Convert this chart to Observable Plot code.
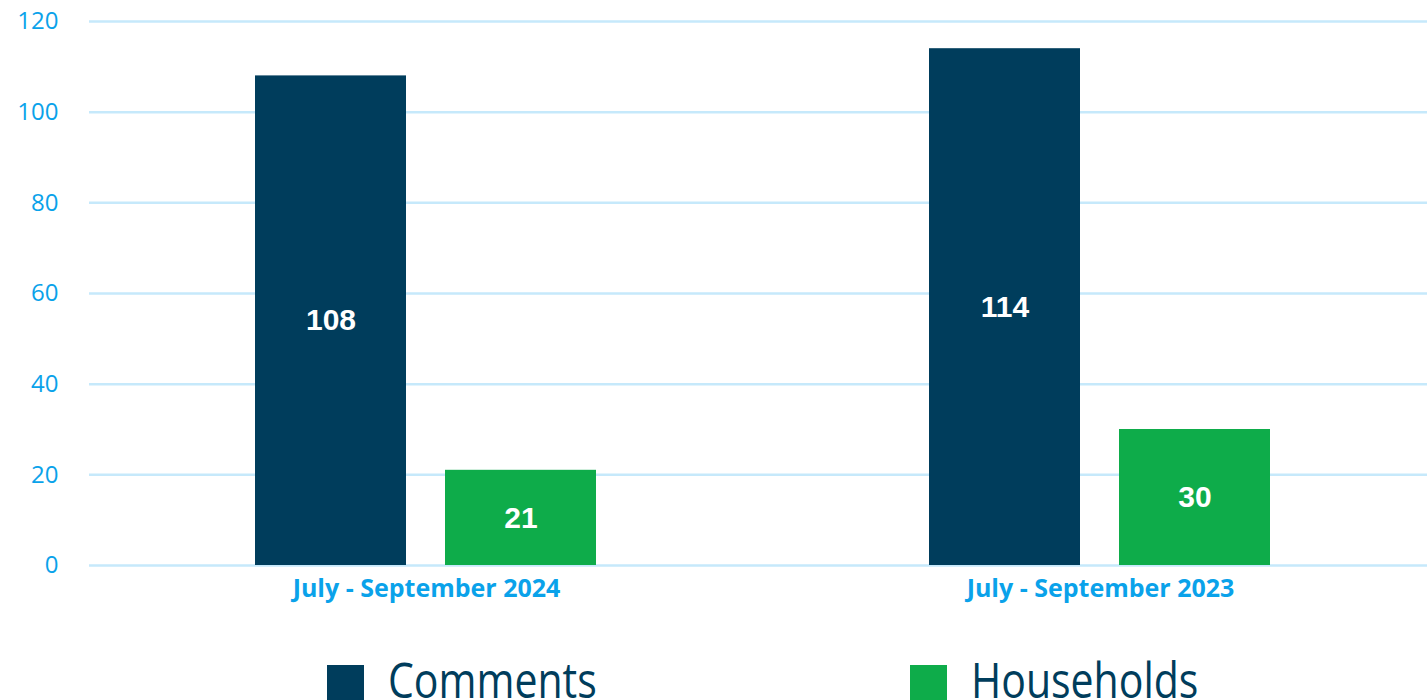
<!DOCTYPE html>
<html>
<head>
<meta charset="utf-8">
<script src="https://cdn.jsdelivr.net/npm/d3@7"></script>
<script src="https://cdn.jsdelivr.net/npm/@observablehq/plot@0.6"></script>
<style>
  body { margin: 0; background: #fff; overflow: hidden; }
  #legend { position: relative; height: 60px; font-family: "Open Sans", sans-serif; }
  .item { position: absolute; top: 0; }
  .sw { position: absolute; top: 25px; left: 0; width: 37px; height: 37px; }
  .lab { position: absolute; top: 14px; left: 61px; font-size: 50px; line-height: 1; color: #003d5c; white-space: nowrap; transform: scaleX(0.82); transform-origin: left top; }
</style>
</head>
<body>
<div id="chart"></div>
<div id="legend"></div>
<script>
const periods = ["July - September 2024", "July - September 2023"];
const series = ["Comments", "Households"];
const colors = ["#003d5c", "#0eac4a"];
const comments = [108, 114];
const households = [21, 30];
const yTicks = [0, 20, 40, 60, 80, 100, 120];

const data = [];
periods.forEach((p, i) => {
  data.push({period: p, series: series[0], value: comments[i]});
  data.push({period: p, series: series[1], value: households[i]});
});

const blue = "#0aa2ea";
const chart = Plot.plot({
  width: 1427,
  height: 640,
  marginLeft: 89,
  marginRight: 0,
  marginTop: 21,
  marginBottom: 75,
  style: {fontFamily: "Open Sans, sans-serif", background: "#fff"},
  fx: {domain: periods, padding: 0, label: null, range: [89, 1437]},
  x: {domain: series, paddingInner: 0.204, paddingOuter: 0.87, axis: null},
  y: {domain: [0, 120], label: null},
  color: {domain: series, range: colors},
  marks: [
    Plot.gridY(yTicks, {stroke: "#c6e9fb", strokeWidth: 2.5, strokeOpacity: 1}),
    Plot.barY(data, {fx: "period", x: "series", y: "value", fill: "series"}),
    Plot.text(data, {fx: "period", x: "series", y: d => d.value / 2, text: d => String(d.value),
      fill: "white", fontWeight: "bold", fontSize: 30, fontFamily: "Liberation Sans, Arial, sans-serif"}),
    Plot.axisY(yTicks, {tickSize: 0, tickPadding: 31, fontSize: 24, color: blue, label: null}),
    Plot.axisFx({anchor: "bottom", tickSize: 0, tickPadding: 14, fontSize: 25, fontWeight: "bold", color: blue, label: null})
  ]
});
document.getElementById("chart").appendChild(chart);

const legend = document.getElementById("legend");
const legendX = [327, 910];
series.forEach((s, i) => {
  const it = document.createElement("div");
  it.className = "item";
  it.style.left = legendX[i] + "px";
  it.innerHTML = `<div class="sw" style="background:${colors[i]}"></div><span class="lab">${s}</span>`;
  legend.appendChild(it);
});
</script>
</body>
</html>
